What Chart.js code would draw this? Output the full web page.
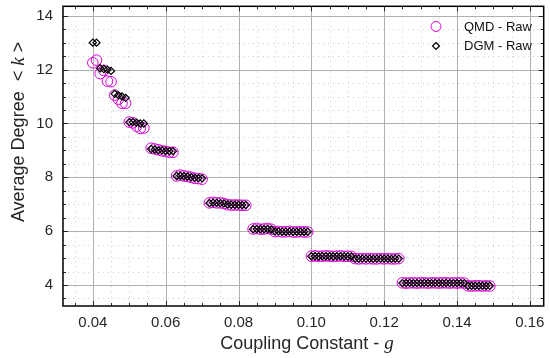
<!DOCTYPE html>
<html>
<head>
<meta charset="utf-8">
<script src="https://cdn.jsdelivr.net/npm/chart.js@4/dist/chart.umd.min.js"></script>
<style>
  html, body { margin: 0; padding: 0; background: #fff; }
  #wrap { width: 550px; height: 358px; position: relative; }
</style>
</head>
<body>
<div id="wrap"><canvas id="chart"></canvas></div>
<script>
// coupling constant g (x) for every sample
const gValues = [
  0.040, 0.041, 0.042, 0.043, 0.044, 0.045, 0.046, 0.047, 0.048, 0.049,
  0.050, 0.051, 0.052, 0.053, 0.054, 0.055, 0.056, 0.057, 0.058, 0.059,
  0.060, 0.061, 0.062, 0.063, 0.064, 0.065, 0.066, 0.067, 0.068, 0.069,
  0.070, 0.071, 0.072, 0.073, 0.074, 0.075, 0.076, 0.077, 0.078, 0.079,
  0.080, 0.081, 0.082, 0.083, 0.084, 0.085, 0.086, 0.087, 0.088, 0.089,
  0.090, 0.091, 0.092, 0.093, 0.094, 0.095, 0.096, 0.097, 0.098, 0.099,
  0.100, 0.101, 0.102, 0.103, 0.104, 0.105, 0.106, 0.107, 0.108, 0.109,
  0.110, 0.111, 0.112, 0.113, 0.114, 0.115, 0.116, 0.117, 0.118, 0.119,
  0.120, 0.121, 0.122, 0.123, 0.124, 0.125, 0.126, 0.127, 0.128, 0.129,
  0.130, 0.131, 0.132, 0.133, 0.134, 0.135, 0.136, 0.137, 0.138, 0.139,
  0.140, 0.141, 0.142, 0.143, 0.144, 0.145, 0.146, 0.147, 0.148, 0.149
];

// average degree <k>, QMD raw
const qmdValues = [
  12.25, 12.35, 11.85, 11.97, 11.57, 11.55, 11.05, 10.90, 10.75, 10.75,
  10.05, 10.02, 9.90, 9.82, 9.83, null, 9.08, 9.05, 9.02, 8.98,
  8.96, 8.93, 8.93, 8.05, 8.08, 8.05, 8.03, 8.00, 7.96, 7.95,
  7.93, null, 7.05, 7.07, 7.05, 7.05, 7.03, 6.98, 6.97, 6.97,
  6.97, 6.96, 6.96, null, 6.08, 6.10, 6.07, 6.08, 6.10, 6.07,
  5.98, 5.99, 5.97, 5.98, 5.99, 5.97, 5.97, 5.98, 5.97, 5.97,
  5.07, 5.08, 5.06, 5.07, 5.08, 5.07, 5.06, 5.07, 5.08, 5.06,
  5.07, 5.06, 4.98, 4.97, 4.98, 4.97, 4.98, 4.97, 4.97, 4.98,
  4.97, 4.98, 4.97, 4.97, 4.98, 4.08, 4.07, 4.08, 4.08, 4.07,
  4.08, 4.08, 4.07, 4.08, 4.08, 4.07, 4.08, 4.08, 4.07, 4.08,
  4.07, 4.08, 4.07, 3.97, 3.96, 3.97, 3.97, 3.96, 3.97, 3.96
];

// average degree <k>, DGM raw
const dgmValues = [
  13.00, 13.00, 12.05, 12.02, 12.00, 11.95, 11.10, 11.05, 11.00, 10.95,
  10.05, 10.05, 10.03, 10.00, 10.00, null, 9.05, 9.03, 9.00, 9.00,
  8.98, 8.97, 8.97, 8.05, 8.06, 8.04, 8.03, 8.00, 7.98, 7.97,
  7.96, null, 7.04, 7.06, 7.05, 7.04, 7.03, 6.99, 6.98, 6.98,
  6.98, 6.97, 6.97, null, 6.07, 6.08, 6.07, 6.07, 6.08, 6.06,
  5.99, 5.99, 5.98, 5.98, 5.99, 5.98, 5.98, 5.98, 5.98, 5.98,
  5.07, 5.07, 5.06, 5.07, 5.07, 5.07, 5.06, 5.07, 5.07, 5.06,
  5.06, 5.06, 4.98, 4.98, 4.98, 4.98, 4.98, 4.97, 4.98, 4.98,
  4.98, 4.98, 4.97, 4.98, 4.98, 4.07, 4.07, 4.08, 4.07, 4.07,
  4.07, 4.08, 4.07, 4.07, 4.08, 4.07, 4.07, 4.08, 4.07, 4.07,
  4.07, 4.07, 4.07, 3.97, 3.97, 3.97, 3.97, 3.97, 3.97, 3.97
];

const seriesLabels = ['QMD - Raw', 'DGM - Raw'];
const xTicks = [0.04, 0.06, 0.08, 0.10, 0.12, 0.14, 0.16];
const yTicks = [4, 6, 8, 10, 12, 14];

const MAGENTA = '#d600d6';
const FONT = '"Liberation Sans", Arial, sans-serif';
const SERIF = '"Liberation Serif", "Times New Roman", serif';

function points(values) {
  const out = [];
  gValues.forEach((g, i) => {
    if (values[i] !== null) out.push({ x: g, y: values[i] });
  });
  return out;
}

// dotted minor + solid major grid, box and inward ticks
const gridPlugin = {
  id: 'matlabGrid',
  beforeDatasetsDraw(chart) {
    const { ctx, chartArea: a, scales: { x, y } } = chart;
    ctx.save();
    ctx.lineWidth = 1;
    // minor
    ctx.strokeStyle = '#cfcfcf';
    ctx.setLineDash([1, 4]);
    for (let v = 0.035; v < x.max; v += 0.005) {
      const px = Math.round(x.getPixelForValue(v)) + 0.5;
      ctx.beginPath(); ctx.moveTo(px, a.top); ctx.lineTo(px, a.bottom); ctx.stroke();
    }
    for (let v = 3.5; v < y.max; v += 0.5) {
      const py = Math.round(y.getPixelForValue(v)) + 0.5;
      ctx.beginPath(); ctx.moveTo(a.left, py); ctx.lineTo(a.right, py); ctx.stroke();
    }
    // major
    ctx.setLineDash([]);
    ctx.strokeStyle = '#b0b0b0';
    xTicks.forEach(v => {
      const px = Math.round(x.getPixelForValue(v)) + 0.5;
      ctx.beginPath(); ctx.moveTo(px, a.top); ctx.lineTo(px, a.bottom); ctx.stroke();
    });
    yTicks.forEach(v => {
      const py = Math.round(y.getPixelForValue(v)) + 0.5;
      ctx.beginPath(); ctx.moveTo(a.left, py); ctx.lineTo(a.right, py); ctx.stroke();
    });
    ctx.restore();
  },
  afterDatasetsDraw(chart) {
    const { ctx, chartArea: a, scales: { x, y } } = chart;
    ctx.save();
    ctx.strokeStyle = '#262626';
    ctx.lineWidth = 1;
    for (let v = 0.035; v < x.max; v += 0.005) {
      const px = Math.round(x.getPixelForValue(v)) + 0.5;
      const len = xTicks.some(t => Math.abs(t - v) < 1e-6) ? 5 : 3;
      ctx.beginPath();
      ctx.moveTo(px, a.bottom); ctx.lineTo(px, a.bottom - len);
      ctx.moveTo(px, a.top); ctx.lineTo(px, a.top + len);
      ctx.stroke();
    }
    for (let v = 3.5; v < y.max; v += 0.5) {
      const py = Math.round(y.getPixelForValue(v)) + 0.5;
      const len = yTicks.some(t => Math.abs(t - v) < 1e-6) ? 5 : 3;
      ctx.beginPath();
      ctx.moveTo(a.left, py); ctx.lineTo(a.left + len, py);
      ctx.moveTo(a.right, py); ctx.lineTo(a.right - len, py);
      ctx.stroke();
    }
    ctx.lineWidth = 1.5;
    ctx.strokeStyle = '#000';
    ctx.strokeRect(a.left, a.top, a.right - a.left, a.bottom - a.top);
    ctx.restore();
  }
};

// legend inside the top-right corner, no box
const legendPlugin = {
  id: 'insideLegend',
  afterDraw(chart) {
    const { ctx } = chart;
    ctx.save();
    ctx.font = '13px ' + FONT;
    ctx.fillStyle = '#111';
    ctx.textBaseline = 'middle';
    ctx.lineWidth = 1;

    ctx.strokeStyle = MAGENTA;
    ctx.beginPath(); ctx.arc(436, 26.5, 5, 0, Math.PI * 2); ctx.stroke();
    ctx.fillText(seriesLabels[0], 464, 27);

    ctx.strokeStyle = '#000';
    ctx.lineWidth = 1.2;
    ctx.beginPath();
    ctx.moveTo(436, 42.5); ctx.lineTo(439.5, 46); ctx.lineTo(436, 49.5); ctx.lineTo(432.5, 46);
    ctx.closePath(); ctx.stroke();
    ctx.fillText(seriesLabels[1], 464, 46);
    ctx.restore();
  }
};

// axis titles with italic math symbols
const titlePlugin = {
  id: 'axisTitles',
  afterDraw(chart) {
    const { ctx } = chart;
    const sans = '18px ' + FONT;
    const ital = 'italic 19px ' + SERIF;
    function drawParts(parts, cx, cy) {
      let total = 0;
      parts.forEach(p => { ctx.font = p[1]; total += ctx.measureText(p[0]).width; });
      let x = cx - total / 2;
      parts.forEach(p => {
        ctx.font = p[1];
        ctx.fillText(p[0], x, cy);
        x += ctx.measureText(p[0]).width;
      });
    }
    ctx.save();
    ctx.fillStyle = '#262626';
    ctx.textBaseline = 'middle';
    drawParts([['Coupling Constant - ', sans], ['g', ital]], 307, 344);
    ctx.translate(19, 132);
    ctx.rotate(-Math.PI / 2);
    drawParts([['Average Degree  < ', sans], ['k', ital], [' >', sans]], 0, 0);
    ctx.restore();
  }
};

new Chart(document.getElementById('chart'), {
  type: 'scatter',
  data: {
    datasets: [
      {
        label: seriesLabels[0],
        data: points(qmdValues),
        pointStyle: 'circle',
        pointRadius: 5.3,
        pointBorderWidth: 1,
        borderColor: MAGENTA,
        backgroundColor: 'rgba(0,0,0,0)',
        order: 2
      },
      {
        label: seriesLabels[1],
        data: points(dgmValues),
        pointStyle: 'rectRot',
        pointRadius: 3.6,
        pointBorderWidth: 1.2,
        borderColor: '#000',
        backgroundColor: 'rgba(0,0,0,0)',
        order: 1
      }
    ]
  },
  options: {
    responsive: true,
    maintainAspectRatio: false,
    animation: false,
    layout: { padding: { top: 5, right: 2, left: 0, bottom: 0 } },
    plugins: { legend: { display: false }, tooltip: { enabled: false } },
    scales: {
      x: {
        type: 'linear',
        min: 0.0318,
        max: 0.1638,
        grid: { display: false, drawTicks: false },
        border: { display: false },
        afterBuildTicks(scale) { scale.ticks = xTicks.map(v => ({ value: v })); },
        afterFit(scale) {
          scale.height = 52;
          scale.paddingLeft = 0;
          scale.paddingRight = 0;
        },
        ticks: {
          padding: 8,
          color: '#262626',
          font: { family: FONT, size: 15 },
          callback: v => Number(v).toFixed(2)
        }
      },
      y: {
        type: 'linear',
        min: 3.22,
        max: 14.35,
        grid: { display: false, drawTicks: false },
        border: { display: false },
        afterBuildTicks(scale) { scale.ticks = yTicks.map(v => ({ value: v })); },
        afterFit(scale) {
          scale.width = 63;
          scale.paddingTop = 0;
          scale.paddingBottom = 0;
        },
        ticks: {
          padding: 10,
          color: '#262626',
          font: { family: FONT, size: 15 },
          callback: v => String(v)
        }
      }
    }
  },
  plugins: [gridPlugin, legendPlugin, titlePlugin]
});
</script>
</body>
</html>
